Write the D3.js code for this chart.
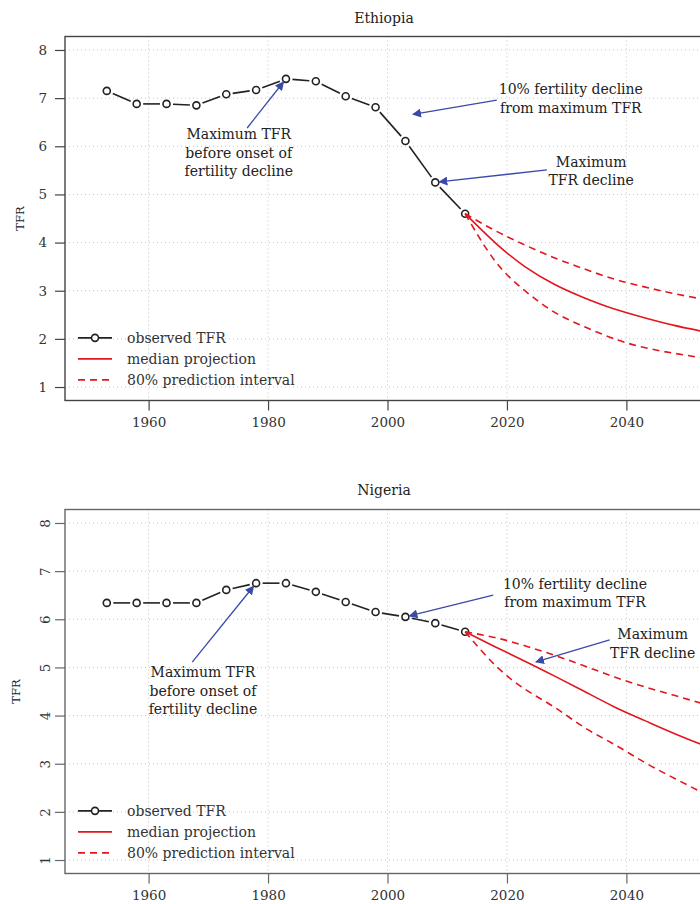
<!DOCTYPE html>
<html>
<head>
<meta charset="utf-8">
<script src="https://cdn.jsdelivr.net/npm/d3@7"></script>
<style>
  body { margin: 0; background: #fff; }
  svg { display: block; font-family: "DejaVu Serif", "Liberation Serif", serif; }
</style>
</head>
<body>
<svg id="chart" width="700" height="904"></svg>
<script>
// Observed TFR, five-year periods (mid years)
const obsYears = [1953, 1958, 1963, 1968, 1973, 1978, 1983, 1988, 1993, 1998, 2003, 2008, 2013];
const ethiopiaObserved = [7.15, 6.88, 6.88, 6.85, 7.08, 7.17, 7.40, 7.35, 7.04, 6.81, 6.11, 5.25, 4.60];
const nigeriaObserved = [6.34, 6.34, 6.34, 6.34, 6.61, 6.75, 6.75, 6.57, 6.36, 6.15, 6.05, 5.92, 5.74];

// Projections
const projYears = [2013, 2018, 2023, 2028, 2033, 2038, 2043, 2048, 2053];
const ethiopiaMedian = [4.60, 4.00, 3.50, 3.13, 2.85, 2.62, 2.44, 2.28, 2.15];
const ethiopiaUpper = [4.60, 4.25, 3.95, 3.68, 3.45, 3.24, 3.08, 2.94, 2.82];
const ethiopiaLower = [4.60, 3.62, 3.00, 2.55, 2.25, 2.00, 1.82, 1.70, 1.60];
const nigeriaMedian = [5.74, 5.43, 5.13, 4.82, 4.50, 4.18, 3.90, 3.63, 3.38];
const nigeriaUpper = [5.74, 5.62, 5.45, 5.25, 5.03, 4.80, 4.60, 4.42, 4.24];
const nigeriaLower = [5.74, 5.05, 4.55, 4.17, 3.75, 3.40, 3.03, 2.70, 2.38];

// Axes
const xTicks = [1960, 1980, 2000, 2020, 2040];
const yTicks = [1, 2, 3, 4, 5, 6, 7, 8];
const legendLabels = ['observed TFR', 'median projection', '80% prediction interval'];

// Annotations: text anchor (year, TFR of first baseline), arrow tail and tip
const ethiopiaNotes = [
  { lines: ['Maximum TFR', 'before onset of', 'fertility decline'], tx: 1975.1, ty: 6.15, from: [1976.5, 6.38], to: [1983, 7.40] },
  { lines: ['10% fertility decline', 'from maximum TFR'], tx: 2030.7, ty: 7.08, from: [2018.3, 6.96], to: [2003.6, 6.65] },
  { lines: ['Maximum', 'TFR decline'], tx: 2034.1, ty: 5.57, from: [2026.7, 5.51], to: [2008, 5.25] }
];
const nigeriaNotes = [
  { lines: ['Maximum TFR', 'before onset of', 'fertility decline'], tx: 1969.1, ty: 4.80, from: [1967.3, 5.11], to: [1978, 6.75] },
  { lines: ['10% fertility decline', 'from maximum TFR'], tx: 2031.4, ty: 6.63, from: [2017.7, 6.50], to: [2003, 6.05] },
  { lines: ['Maximum', 'TFR decline'], tx: 2044.4, ty: 5.59, from: [2037.2, 5.57], to: [2024.2, 5.09] }
];

const svg = d3.select('#chart');
const plotLeft = 65, plotRight = 710;
const red = '#e3161d', arrowBlue = '#3a4aa8';

svg.append('defs').append('marker')
  .attr('id', 'arrowhead')
  .attr('viewBox', '0 0 10 10')
  .attr('refX', 9).attr('refY', 5)
  .attr('markerWidth', 9).attr('markerHeight', 9)
  .attr('markerUnits', 'userSpaceOnUse')
  .attr('orient', 'auto')
  .append('path')
  .attr('d', 'M0,0 L10,5 L0,10 Z')
  .attr('fill', arrowBlue);

function drawPanel(cfg) {
  const x = d3.scaleLinear().domain([1946, 2054]).range([plotLeft, plotRight]);
  const y = d3.scaleLinear().domain([0.72, 8.28]).range([cfg.bottom, cfg.top]);
  const g = svg.append('g').attr('class', 'panel');

  // grid
  g.selectAll('line.hgrid').data(yTicks).join('line')
    .attr('x1', plotLeft).attr('x2', plotRight)
    .attr('y1', d => y(d)).attr('y2', d => y(d))
    .attr('stroke', '#c4c4c4').attr('stroke-width', 1).attr('stroke-dasharray', '1,3');
  g.selectAll('line.vgrid').data(xTicks).join('line')
    .attr('x1', d => x(d)).attr('x2', d => x(d))
    .attr('y1', cfg.top).attr('y2', cfg.bottom)
    .attr('stroke', '#c4c4c4').attr('stroke-width', 1).attr('stroke-dasharray', '1,3');

  // frame
  g.append('rect')
    .attr('x', plotLeft).attr('y', cfg.top)
    .attr('width', plotRight - plotLeft).attr('height', cfg.bottom - cfg.top)
    .attr('fill', 'none').attr('stroke', cfg.frame).attr('stroke-width', 1.4);

  // axes
  const yAxis = g.append('g')
    .attr('transform', `translate(${plotLeft},0)`)
    .call(d3.axisLeft(y).tickValues(yTicks).tickSize(10).tickPadding(8).tickFormat(d3.format('d')));
  const xAxis = g.append('g')
    .attr('transform', `translate(0,${cfg.bottom})`)
    .call(d3.axisBottom(x).tickValues(xTicks).tickSize(10).tickPadding(7).tickFormat(d3.format('d')));
  [yAxis, xAxis].forEach(a => {
    a.attr('font-family', null).attr('font-size', null);
    a.select('.domain').remove();
    a.selectAll('line').attr('stroke', cfg.frame).attr('stroke-width', 1.2);
    a.selectAll('text').attr('fill', '#333').attr('font-size', 13.5);
  });
  if (cfg.rotateY) {
    yAxis.selectAll('text')
      .attr('transform', 'rotate(-90)')
      .attr('text-anchor', 'middle')
      .attr('x', 0).attr('y', -20).attr('dy', '0.35em');
  }

  // titles
  g.append('text')
    .attr('x', 384).attr('y', cfg.titleY)
    .attr('text-anchor', 'middle').attr('font-size', 14).attr('fill', '#222')
    .text(cfg.title);
  g.append('text')
    .attr('transform', `translate(${cfg.ylabX},${(cfg.top + cfg.bottom) / 2}) rotate(-90)`)
    .attr('text-anchor', 'middle').attr('font-size', 11.5).attr('fill', '#222')
    .text('TFR');

  // observed series, type "b": segments with gaps around the points
  const pts = obsYears.map((yr, i) => [x(yr), y(cfg.observed[i])]);
  const gap = 6.5;
  const segs = d3.pairs(pts).map(([a, b]) => {
    const dx = b[0] - a[0], dy = b[1] - a[1], len = Math.hypot(dx, dy);
    const ux = dx / len, uy = dy / len;
    return [a[0] + ux * gap, a[1] + uy * gap, b[0] - ux * gap, b[1] - uy * gap];
  });
  g.selectAll('line.obs').data(segs).join('line')
    .attr('x1', d => d[0]).attr('y1', d => d[1])
    .attr('x2', d => d[2]).attr('y2', d => d[3])
    .attr('stroke', '#222').attr('stroke-width', 1.6);
  g.selectAll('circle.obs').data(pts).join('circle')
    .attr('cx', d => d[0]).attr('cy', d => d[1]).attr('r', 3.5)
    .attr('fill', '#fff').attr('stroke', '#222').attr('stroke-width', 1.6);

  // projections
  const line = d3.line().x((d, i) => x(projYears[i])).y(d => y(d)).curve(d3.curveNatural);
  [cfg.upper, cfg.lower].forEach(s => {
    g.append('path').attr('d', line(s))
      .attr('fill', 'none').attr('stroke', red).attr('stroke-width', 1.6)
      .attr('stroke-dasharray', '7,5');
  });
  g.append('path').attr('d', line(cfg.median))
    .attr('fill', 'none').attr('stroke', red).attr('stroke-width', 1.6);

  // annotations
  cfg.notes.forEach(n => {
    const t = g.append('text')
      .attr('text-anchor', 'middle').attr('font-size', 14).attr('fill', '#222');
    n.lines.forEach((l, i) => {
      t.append('tspan').attr('x', x(n.tx)).attr('y', y(n.ty) + i * 18.5).text(l);
    });
    const x1 = x(n.from[0]), y1 = y(n.from[1]);
    let x2 = x(n.to[0]), y2 = y(n.to[1]);
    const len = Math.hypot(x2 - x1, y2 - y1);
    x2 -= (x2 - x1) / len * 4; y2 -= (y2 - y1) / len * 4;
    g.append('line')
      .attr('x1', x1).attr('y1', y1).attr('x2', x2).attr('y2', y2)
      .attr('stroke', arrowBlue).attr('stroke-width', 1.3)
      .attr('marker-end', 'url(#arrowhead)');
  });

  // legend
  const rows = [y(2) + 1, y(2) + 22, y(2) + 43].map(v => v - 2);
  const lg = g.append('g');
  lg.append('line').attr('x1', 78).attr('x2', 112).attr('y1', rows[0]).attr('y2', rows[0])
    .attr('stroke', '#222').attr('stroke-width', 1.6);
  lg.append('circle').attr('cx', 95).attr('cy', rows[0]).attr('r', 3.5)
    .attr('fill', '#fff').attr('stroke', '#222').attr('stroke-width', 1.6);
  lg.append('line').attr('x1', 78).attr('x2', 112).attr('y1', rows[1]).attr('y2', rows[1])
    .attr('stroke', red).attr('stroke-width', 1.6);
  lg.append('line').attr('x1', 78).attr('x2', 112).attr('y1', rows[2]).attr('y2', rows[2])
    .attr('stroke', red).attr('stroke-width', 1.6).attr('stroke-dasharray', '7,5');
  lg.selectAll('text').data(legendLabels).join('text')
    .attr('x', 127).attr('y', (d, i) => rows[i]).attr('dy', '0.35em')
    .attr('font-size', 14).attr('fill', '#333')
    .text(d => d);
}

drawPanel({
  title: 'Ethiopia', top: 36.5, bottom: 400.5, titleY: 23, ylabX: 24, frame: '#444',
  observed: ethiopiaObserved, median: ethiopiaMedian, upper: ethiopiaUpper, lower: ethiopiaLower,
  notes: ethiopiaNotes, rotateY: false
});
drawPanel({
  title: 'Nigeria', top: 509.5, bottom: 873.5, titleY: 495, ylabX: 20, frame: '#666',
  observed: nigeriaObserved, median: nigeriaMedian, upper: nigeriaUpper, lower: nigeriaLower,
  notes: nigeriaNotes, rotateY: true
});
</script>
</body>
</html>
